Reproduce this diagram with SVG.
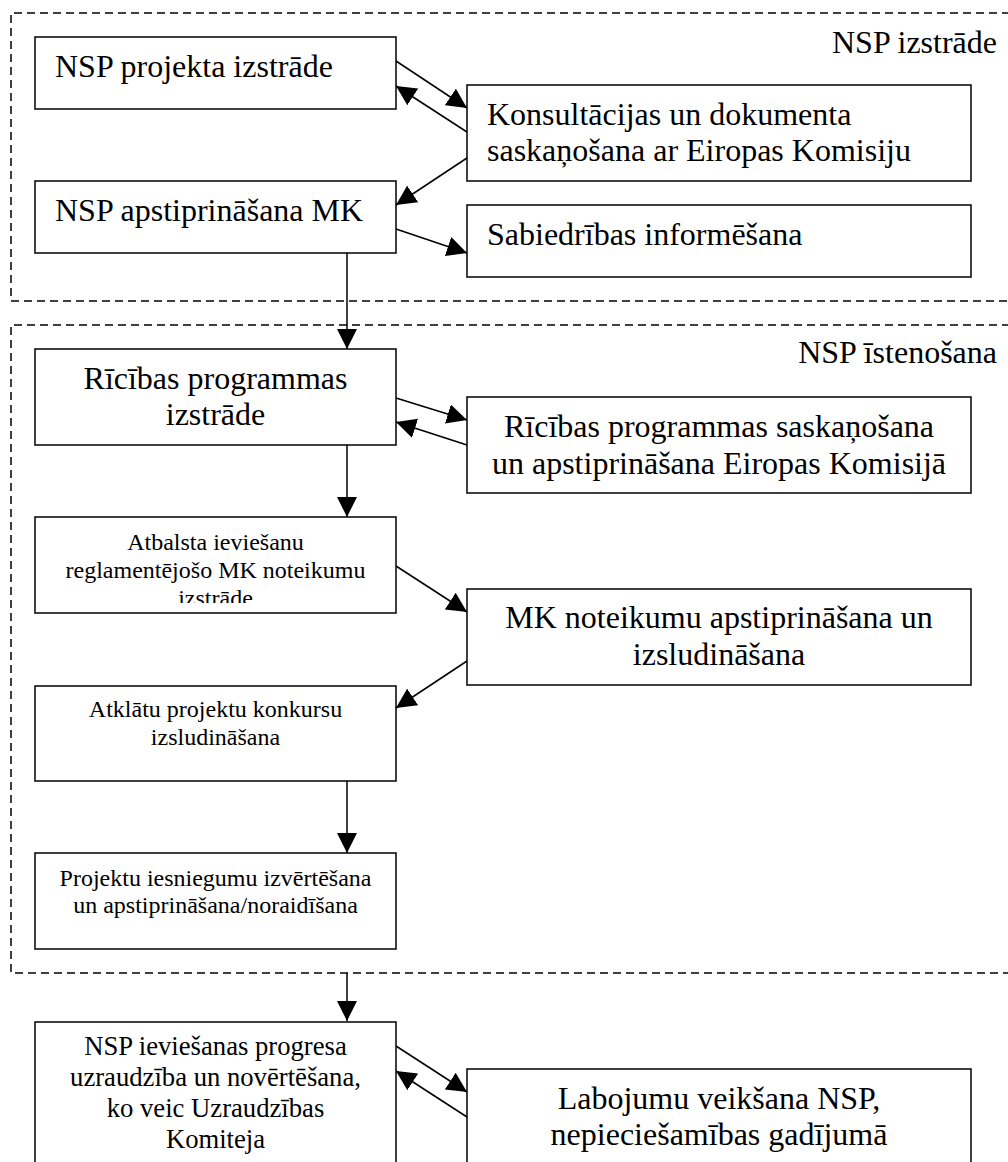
<svg xmlns="http://www.w3.org/2000/svg" width="1008" height="1162" viewBox="0 0 1008 1162">
<style>
.box{fill:#fff;stroke:#000;stroke-width:1.5}
.grp{fill:none;stroke:#000;stroke-width:1.5;stroke-dasharray:8 5}
.t32{font-family:"Liberation Serif","Times New Roman",serif;font-size:32px;fill:#000}
.t27{font-family:"Liberation Serif","Times New Roman",serif;font-size:26.67px;fill:#000}
.t24{font-family:"Liberation Serif","Times New Roman",serif;font-size:24px;fill:#000}
.c{text-anchor:middle}
.e{text-anchor:end}
.conn{fill:none;stroke:#000;stroke-width:1.5;marker-end:url(#ah)}
</style>
<defs>
<marker id="ah" markerUnits="userSpaceOnUse" markerWidth="20" markerHeight="20" viewBox="0 0 19 19" refX="19" refY="9.5" orient="auto">
<path d="M0,0 L19,9.5 L0,19 z" fill="#000"/>
</marker>
<clipPath id="clipAtb"><rect x="35" y="517" width="361" height="86"/></clipPath>
</defs>
<rect width="1008" height="1162" fill="#fff"/>

<g id="group-izstrade">
<path class="grp" d="M1010,13 H11 V301 H1010"/>
<text class="t32 e" x="997" y="53">NSP izstrāde</text>
</g>
<g id="group-istenosana">
<path class="grp" d="M1010,325 H11 V973 H1010"/>
<text class="t32 e" x="997" y="363">NSP īstenošana</text>
</g>

<g id="n1"><rect class="box" x="35" y="37" width="361" height="72"/>
<text class="t32" x="55" y="77">NSP projekta izstrāde</text></g>
<g id="n2"><rect class="box" x="467" y="85" width="504" height="96"/>
<text class="t32" x="487" y="125">Konsultācijas un dokumenta</text>
<text class="t32" x="487" y="161">saskaņošana ar Eiropas Komisiju</text></g>
<g id="n3"><rect class="box" x="35" y="181" width="361" height="72"/>
<text class="t32" x="55" y="221">NSP apstiprināšana MK</text></g>
<g id="n4"><rect class="box" x="467" y="205" width="504" height="72"/>
<text class="t32" x="487" y="245">Sabiedrības informēšana</text></g>

<g id="n5"><rect class="box" x="35" y="349" width="361" height="96"/>
<text class="t32 c" x="215.5" y="389">Rīcības programmas</text>
<text class="t32 c" x="215.5" y="425">izstrāde</text></g>
<g id="n6"><rect class="box" x="467" y="397" width="504" height="96"/>
<text class="t32 c" x="719" y="437">Rīcības programmas saskaņošana</text>
<text class="t32 c" x="719" y="474">un apstiprināšana Eiropas Komisijā</text></g>
<g id="n7"><rect class="box" x="35" y="517" width="361" height="96"/>
<g clip-path="url(#clipAtb)">
<text class="t24 c" x="215.5" y="550">Atbalsta ieviešanu</text>
<text class="t24 c" x="215.5" y="578">reglamentējošo MK noteikumu</text>
<text class="t24 c" x="215.5" y="606">izstrāde</text></g></g>
<g id="n8"><rect class="box" x="467" y="589" width="504" height="96"/>
<text class="t32 c" x="719" y="628">MK noteikumu apstiprināšana un</text>
<text class="t32 c" x="719" y="665">izsludināšana</text></g>
<g id="n9"><rect class="box" x="35" y="686" width="361" height="95"/>
<text class="t24 c" x="215.5" y="717">Atklātu projektu konkursu</text>
<text class="t24 c" x="215.5" y="745">izsludināšana</text></g>
<g id="n10"><rect class="box" x="35" y="853" width="361" height="96"/>
<text class="t24 c" x="215.5" y="886">Projektu iesniegumu izvērtēšana</text>
<text class="t24 c" x="215.5" y="913">un apstiprināšana/noraidīšana</text></g>

<g id="n11"><rect class="box" x="35" y="1022" width="361" height="160"/>
<text class="t27 c" x="215.5" y="1055">NSP ieviešanas progresa</text>
<text class="t27 c" x="215.5" y="1086">uzraudzība un novērtēšana,</text>
<text class="t27 c" x="215.5" y="1117">ko veic Uzraudzības</text>
<text class="t27 c" x="215.5" y="1148">Komiteja</text></g>
<g id="n12"><rect class="box" x="467" y="1069" width="504" height="120"/>
<text class="t32 c" x="719" y="1109">Labojumu veikšana NSP,</text>
<text class="t32 c" x="719" y="1145">nepieciešamības gadījumā</text></g>

<g id="connectors">
<line class="conn" x1="396" y1="61" x2="467" y2="108"/>
<line class="conn" x1="467" y1="132" x2="396" y2="86"/>
<line class="conn" x1="467" y1="158" x2="396" y2="205"/>
<line class="conn" x1="396" y1="229" x2="467" y2="253"/>
<line class="conn" x1="347" y1="253" x2="347" y2="349"/>
<line class="conn" x1="396" y1="398" x2="467" y2="420"/>
<line class="conn" x1="467" y1="445" x2="396" y2="422"/>
<line class="conn" x1="347" y1="445" x2="347" y2="517"/>
<line class="conn" x1="396" y1="566" x2="467" y2="612"/>
<line class="conn" x1="467" y1="661" x2="396" y2="708"/>
<line class="conn" x1="347" y1="781" x2="347" y2="853"/>
<line class="conn" x1="347" y1="973" x2="347" y2="1021"/>
<line class="conn" x1="396" y1="1046" x2="467" y2="1092"/>
<line class="conn" x1="467" y1="1117" x2="396" y2="1071"/>
</g>
</svg>
